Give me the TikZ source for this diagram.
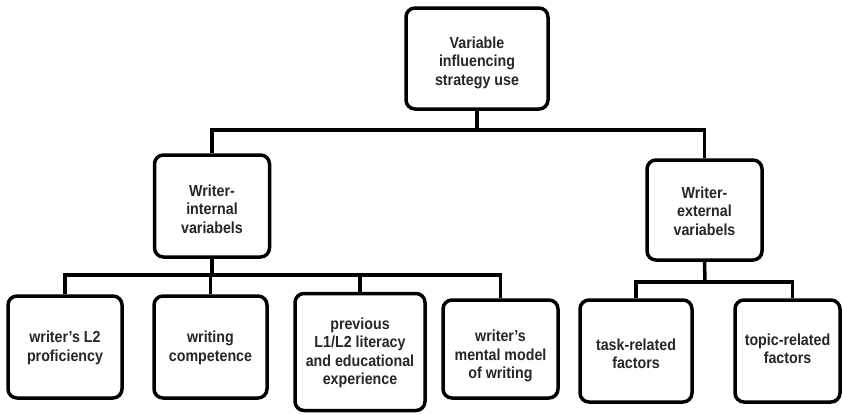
\documentclass[tikz,border=0pt]{standalone}
\usepackage{fontspec}
\setmainfont{Liberation Sans}[FakeStretch=0.89]
\begin{document}
\begin{tikzpicture}[x=1pt,y=-1pt,
  box/.style={draw=black, line width=3.5pt, rounded corners=9pt, fill=white, inner sep=0pt},
  txt/.style={align=center, inner sep=0pt, font=\bfseries\fontsize{16}{18.5}\selectfont, text=black!85},
  conn/.style={draw=black, line width=3.5pt}]
\useasboundingbox (0,0) rectangle (842,413);
\node[box, minimum width=142pt, minimum height=101pt] (top) at (477,58.5) {};
\node[box, minimum width=115pt, minimum height=102pt] (int) at (212,206) {};
\node[box, minimum width=115pt, minimum height=100pt] (ext) at (704.5,210) {};
\node[box, minimum width=114pt, minimum height=102pt] (b1) at (65,347) {};
\node[box, minimum width=113pt, minimum height=102pt] (b2) at (210.5,347) {};
\node[box, minimum width=130pt, minimum height=117pt] (b3) at (360,352) {};
\node[box, minimum width=115pt, minimum height=98pt] (b4) at (500.5,349) {};
\node[box, minimum width=112pt, minimum height=102pt] (b5) at (636,351) {};
\node[box, minimum width=105pt, minimum height=102pt] (b6) at (787.5,351) {};
\node[txt] (topt) at ([yshift=-4pt]top.center) {Variable\\influencing\\strategy use};
\node[txt] (intt) at ([yshift=-3pt]int.center) {Writer-\\internal\\variabels};
\node[txt] (extt) at ([yshift=-1pt]ext.center) {Writer-\\external\\variabels};
\node[txt] (b1t) at ([yshift=-1pt]b1.center) {writer’s L2\\proficiency};
\node[txt] (b2t) at ([yshift=-1pt]b2.center) {writing\\competence};
\node[txt] (b3t) at ([yshift=-1pt]b3.center) {previous\\L1/L2 literacy\\and educational\\experience};
\node[txt] (b4t) at ([yshift=-7pt]b4.center) {writer’s\\mental model\\of writing};
\node[txt] (b5t) at ([yshift=-3pt]b5.center) {task-related\\factors};
\node[txt] (b6t) at ([yshift=2pt]b6.center) {topic-related\\factors};
\coordinate (j1) at (477,130);
\coordinate (j2) at (212,275);
\coordinate (j3) at (705,282);
\draw[conn] (top.south) -- (j1);
\draw[conn] (int.north) |- (j1) -| (ext.north);
\draw[conn] (int.south) -- (j2);
\draw[conn] (b1.north) |- (j2) -| (b4.north);
\draw[conn] (b2.north) -- (b2.north |- j2);
\draw[conn] (b3.north) -- (b3.north |- j2);
\draw[conn] (ext.south) -- (j3);
\draw[conn] (b5.north) |- (j3) -| ([xshift=5pt]b6.north);
\end{tikzpicture}
\end{document}
